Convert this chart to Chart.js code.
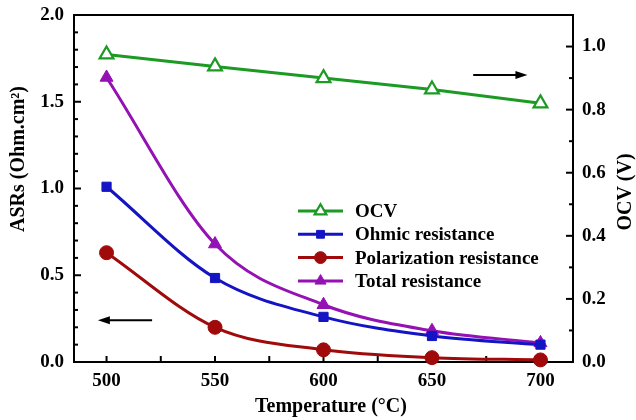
<!DOCTYPE html>
<html><head><meta charset="utf-8">
<script src="https://cdn.jsdelivr.net/npm/chart.js@4.4.0/dist/chart.umd.min.js"></script>
<style>html,body{margin:0;padding:0;background:#fff}#wrap{width:636px;height:420px}</style>
</head><body><div id="wrap"><canvas id="c" width="636" height="420"></canvas></div>
<script>
// ---- data ----
const temperatures = [500, 550, 600, 650, 700];
const ocv = [0.975, 0.937, 0.900, 0.864, 0.820];
const ohmic = [1.01, 0.484, 0.26, 0.15, 0.10];
const polarization = [0.63, 0.20, 0.07, 0.025, 0.012];
const total = [1.64, 0.68, 0.33, 0.18, 0.11];
const seriesNames = ['OCV', 'Ohmic resistance', 'Polarization resistance', 'Total resistance'];
const xTickLabels = [500, 550, 600, 650, 700];
const leftTickLabels = [0.0, 0.5, 1.0, 1.5, 2.0];
const rightTickLabels = [0.0, 0.2, 0.4, 0.6, 0.8, 1.0];
const xTitle = 'Temperature (°C)';
const leftTitle = 'ASRs (Ohm.cm²)';
const rightTitle = 'OCV (V)';

// ---- style ----
const FONT = "'Liberation Serif', 'Times New Roman', serif";
const colors = ['#1c9a24', '#1414c4', '#a00a0a', '#9412b4'];
const toPts = arr => temperatures.map((t, i) => ({x: t, y: arr[i]}));

const datasets = [
  {label: seriesNames[0], data: toPts(ocv), yAxisID: 'y2', borderColor: colors[0], backgroundColor: '#ffffff',
   pointStyle: 'triangle', pointRadius: 8, pointBorderWidth: 2.2, borderWidth: 3, tension: 0, legendFill: '#ffffff'},
  {label: seriesNames[1], data: toPts(ohmic), yAxisID: 'y', borderColor: colors[1], backgroundColor: colors[1],
   pointStyle: 'rect', pointRadius: 6.5, pointBorderWidth: 1, borderWidth: 3, cubicInterpolationMode: 'monotone', legendFill: colors[1]},
  {label: seriesNames[2], data: toPts(polarization), yAxisID: 'y', borderColor: colors[2], backgroundColor: colors[2],
   pointStyle: 'circle', pointRadius: 7, pointBorderWidth: 1, borderWidth: 3, cubicInterpolationMode: 'monotone', legendFill: colors[2]},
  {label: seriesNames[3], data: toPts(total), yAxisID: 'y', borderColor: colors[3], backgroundColor: colors[3],
   pointStyle: 'triangle', pointRadius: 7.5, pointBorderWidth: 1, borderWidth: 3, cubicInterpolationMode: 'monotone', legendFill: colors[3]}
];
datasets.forEach(d => { d.clip = false; d.pointBackgroundColor = d.backgroundColor; d.pointBorderColor = d.borderColor; d.fill = false; });

function line(ctx, x1, y1, x2, y2) { ctx.beginPath(); ctx.moveTo(x1, y1); ctx.lineTo(x2, y2); ctx.stroke(); }
function arrow(ctx, x1, y, x2) {
  const dir = Math.sign(x2 - x1);
  ctx.lineWidth = 2; line(ctx, x1, y, x2 - dir * 8, y);
  ctx.beginPath(); ctx.moveTo(x2, y); ctx.lineTo(x2 - dir * 12, y - 4); ctx.lineTo(x2 - dir * 12, y + 4); ctx.closePath(); ctx.fill();
}

const decor = {
  id: 'decor',
  beforeDatasetsDraw(chart) {
    const {ctx, chartArea: a, scales} = chart;
    ctx.save();
    ctx.strokeStyle = '#000'; ctx.lineWidth = 2;
    ctx.strokeRect(a.left, a.top, a.right - a.left, a.bottom - a.top);
    ctx.lineWidth = 2;
    for (let v = 500; v <= 700; v += 25) {
      const px = scales.x.getPixelForValue(v);
      line(ctx, px, a.bottom, px, a.bottom - 6);
    }
    for (let k = 0; k <= 20; k++) {
      const py = scales.y.getPixelForValue(k / 10);
      line(ctx, a.left, py, a.left + (k % 5 === 0 ? 7 : 4), py);
    }
    for (let k = 0; k <= 11; k++) {
      const py = scales.y2.getPixelForValue(k / 10);
      line(ctx, a.right, py, a.right - (k % 2 === 0 ? 7 : 4), py);
    }
    ctx.restore();
  },
  afterDraw(chart) {
    const {ctx, chartArea: a, scales} = chart;
    ctx.save();
    ctx.fillStyle = '#000'; ctx.strokeStyle = '#000';
    // axis titles
    ctx.font = `bold 20px ${FONT}`;
    ctx.textAlign = 'center'; ctx.textBaseline = 'middle';
    ctx.fillText(xTitle, 331, 407);
    ctx.save(); ctx.translate(19, 159); ctx.rotate(-Math.PI / 2); ctx.fillText(leftTitle, 0, 0); ctx.restore();
    ctx.save(); ctx.translate(626, 192); ctx.rotate(-Math.PI / 2); ctx.fillText(rightTitle, 0, 0); ctx.restore();
    // arrows (placed in data coordinates)
    arrow(ctx, scales.x.getPixelForValue(521), scales.y.getPixelForValue(0.24), scales.x.getPixelForValue(496));
    arrow(ctx, scales.x.getPixelForValue(669), scales.y2.getPixelForValue(0.91), scales.x.getPixelForValue(694));
    // legend
    ctx.font = `bold 19px ${FONT}`;
    ctx.textAlign = 'left';
    chart.data.datasets.forEach((d, i) => {
      const yy = 211 + i * 23.3, x0 = 298, x1 = 343;
      ctx.strokeStyle = d.borderColor; ctx.lineWidth = 3;
      line(ctx, x0, yy, x1, yy);
      ctx.fillStyle = d.legendFill; ctx.lineWidth = d.pointBorderWidth;
      Chart.helpers.drawPoint(ctx, {pointStyle: d.pointStyle, radius: d.pointRadius * 0.85, borderWidth: d.pointBorderWidth, rotation: 0}, (x0 + x1) / 2, yy);
      ctx.fillStyle = '#000';
      ctx.fillText(d.label, 355, yy + 1);
    });
    ctx.restore();
  }
};

const zeroPad = s => { s.paddingTop = 0; s.paddingBottom = 0; s.paddingLeft = 0; s.paddingRight = 0; };
const tickFont = {family: FONT, size: 19, weight: 'bold'};
new Chart(document.getElementById('c'), {
  type: 'line',
  data: {datasets},
  options: {
    responsive: false, animation: false, devicePixelRatio: 1,
    layout: {padding: {top: 15, left: 0, right: 0, bottom: 0}},
    plugins: {legend: {display: false}, tooltip: {enabled: false}},
    scales: {
      x: {type: 'linear', min: 485, max: 715, grid: {display: false, drawTicks: false}, border: {display: false},
        afterBuildTicks: s => { s.ticks = xTickLabels.map(v => ({value: v})); },
        ticks: {font: tickFont, color: '#000', padding: 8, maxRotation: 0, callback: v => String(v)},
        afterFit: s => { s.height = 58; zeroPad(s); }},
      y: {position: 'left', min: 0, max: 2, grid: {display: false, drawTicks: false}, border: {display: false},
        afterBuildTicks: s => { s.ticks = leftTickLabels.map(v => ({value: v})); },
        ticks: {font: tickFont, color: '#000', padding: 10, callback: v => Number(v).toFixed(1)},
        afterFit: s => { s.width = 74; zeroPad(s); }},
      y2: {position: 'right', min: 0, max: 1.1, grid: {display: false, drawTicks: false}, border: {display: false},
        afterBuildTicks: s => { s.ticks = rightTickLabels.map(v => ({value: v})); },
        ticks: {font: tickFont, color: '#000', padding: 9, callback: v => Number(v).toFixed(1)},
        afterFit: s => { s.width = 63; zeroPad(s); }}
    }
  },
  plugins: [decor]
});
</script>
</body></html>
